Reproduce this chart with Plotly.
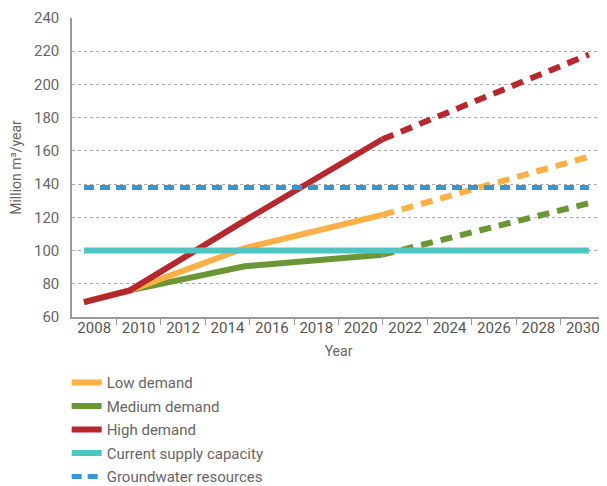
import plotly.graph_objects as go

# ---- data ----
years_solid = [2008, 2010, 2015, 2021]
years_proj = [2021, 2030]
low_solid = [69, 76, 101.5, 121.5]
low_proj = [121.5, 156.5]
med_solid = [69, 76, 90.5, 97.5]
med_proj = [97.5, 128.5]
high_solid = [69, 76, 118, 167]
high_proj = [167, 218]
supply_years = [2008, 2010, 2015, 2021, 2030]
supply = [100, 100, 100, 100, 100]
gw_years = [2008, 2030]
groundwater = [138, 138]

label_years = list(range(2008, 2031, 2))
tick_labels = [str(y) for y in label_years]

C_LOW = "#FDB045"
C_MED = "#6A9733"
C_HIGH = "#B7282E"
C_SUP = "#4DC5C3"
C_GW = "#3597D6"

fig = go.Figure()

def add(x, y, color, name, show, rank, dash="solid", width=6):
    fig.add_trace(go.Scatter(
        x=x, y=y, mode="lines", name=name, showlegend=show,
        legendgroup=name, legendrank=rank,
        line=dict(color=color, width=width, dash=dash),
        hoverinfo="skip"))

add(years_solid, med_solid, C_MED, "Medium demand", True, 2)
add(years_proj, med_proj, C_MED, "Medium demand", False, 2, dash="12px,8px")
add(years_solid, low_solid, C_LOW, "Low demand", True, 1)
add(years_proj, low_proj, C_LOW, "Low demand", False, 1, dash="12px,8px")
add(years_solid, high_solid, C_HIGH, "High demand", True, 3)
add(years_proj, high_proj, C_HIGH, "High demand", False, 3, dash="12px,8px")
add(supply_years, supply, C_SUP, "Current supply capacity", True, 4)
add(gw_years, groundwater, C_GW, "Groundwater resources", True, 5, dash="10px,6px", width=5)

# empty trace so that the labelled category-style axis is drawn
fig.add_trace(go.Scatter(x=[], y=[], xaxis="x2", yaxis="y", showlegend=False,
                         hoverinfo="skip"))

font = "Roboto, 'Open Sans', sans-serif"

# page has an 8px body margin: figure is sized/offset to compensate
fig.update_layout(
    width=599, height=478,
    margin=dict(l=64, r=2, t=10, b=169, autoexpand=False),
    paper_bgcolor="white", plot_bgcolor="white",
    font=dict(family=font, color="#666", size=14),
    xaxis=dict(
        range=[2007.477, 2030.70], showticklabels=False, showgrid=False,
        zeroline=False, showline=False, ticks="", automargin=False,
    ),
    xaxis2=dict(
        overlaying="x", anchor="y", side="bottom", automargin=False,
        range=[2007.5, 2031.5],
        tickmode="array", tickvals=[y + 0.5 for y in label_years], ticktext=tick_labels,
        ticks="", showgrid=False, zeroline=False, ticklabelstandoff=-4,
        showline=True, linecolor="#999", linewidth=1.5,
        tickfont=dict(size=15, color="#555", family=font),
        minor=dict(tickmode="array", tickvals=[y + 1.5 for y in label_years],
                   ticks="outside", ticklen=6, tickcolor="#999", tickwidth=1, showgrid=False),
        title=dict(text="Year", font=dict(size=14, color="#666"), standoff=10),
    ),
    yaxis=dict(
        range=[60, 240], tickmode="array", tickvals=list(range(60, 241, 20)),
        showgrid=True, gridcolor="#aaa", griddash="dot", gridwidth=1,
        zeroline=False, showline=True, linecolor="#999", linewidth=1.5,
        ticks="", ticklabelstandoff=8, automargin=False,
        tickfont=dict(size=15, color="#666", family=font),
        title=dict(text="Million m³/year", font=dict(size=14, color="#666"), standoff=10),
    ),
    legend=dict(
        x=-0.010, xanchor="left", y=-0.165, yanchor="top",
        font=dict(size=15, color="#666", family=font),
        traceorder="grouped", tracegroupgap=1,
        bgcolor="rgba(0,0,0,0)", itemwidth=30,
    ),
)

fig.write_html("out.html")
